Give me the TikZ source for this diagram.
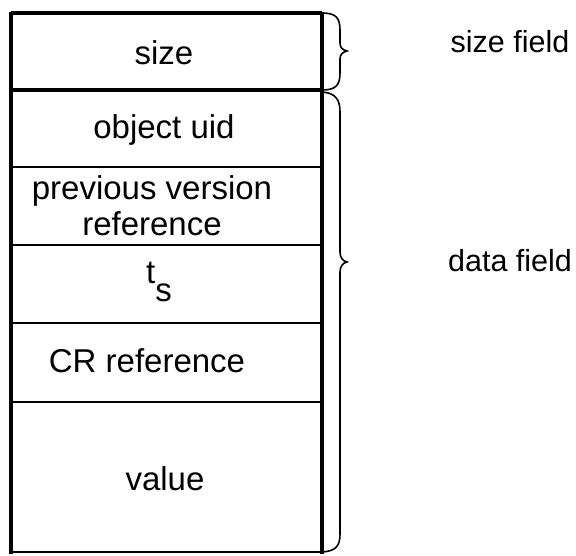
\documentclass[tikz,border=0pt]{standalone}
\usepackage{fontspec}
\setmainfont{Liberation Sans}
\begin{document}
\begin{tikzpicture}[x=1pt,y=-1pt,
  lbl/.style={inner sep=0pt,anchor=center,font=\fontsize{33}{36}\selectfont,align=center},
  side/.style={inner sep=0pt,anchor=center,font=\fontsize{30.5}{34}\selectfont},
  thickline/.style={line width=3.5pt},
  thinline/.style={line width=1.4pt},
  bracel/.style={line width=1.6pt}]
\useasboundingbox (0,0) rectangle (576,555);
% frame
\draw[thickline] (11,13) -- (322,13);
\draw[thickline] (11,90) -- (322,90);
\draw[thickline] (11,11.5) -- (11,553.5);
\draw[line width=4pt] (322,11.5) -- (322,553.5);
\draw[thinline] (11,552) -- (322,552);
\draw[thinline] (11,167) -- (322,167);
\draw[thinline] (11,245) -- (322,245);
\draw[thinline] (11,323) -- (322,323);
\draw[thinline] (11,402) -- (322,402);
% labels
\node[lbl] (size) at (164,53) {size};
\node[lbl] (uid) at (164,130) {object uid};
\node[lbl] (prev) at (152,206) {previous version\\reference};
\node[lbl] (ts) at (159,282) {t\raisebox{-1.05ex}{s}};
\node[lbl] (cr) at (147,361) {CR reference};
\node[lbl] (val) at (165,479) {value};
\node[side] (sf) at (510,42) {size field};
\node[side] (df) at (510,261) {data field};
% braces
\draw[bracel] (322,13) .. controls (336,13) and (340,18) .. (340,30)
  -- (340,43) .. controls (340,48) and (343,50) .. (347,51)
  .. controls (343,52) and (340,54) .. (340,59)
  -- (340,73) .. controls (340,85) and (336,90) .. (322,90);
\draw[bracel] (322,92) .. controls (336,93) and (340,100) .. (340,112)
  -- (340,252) .. controls (340,258) and (343,261) .. (347,262)
  .. controls (343,263) and (340,266) .. (340,272)
  -- (340,534) .. controls (340,546) and (336,551) .. (322,552);
\end{tikzpicture}
\end{document}
